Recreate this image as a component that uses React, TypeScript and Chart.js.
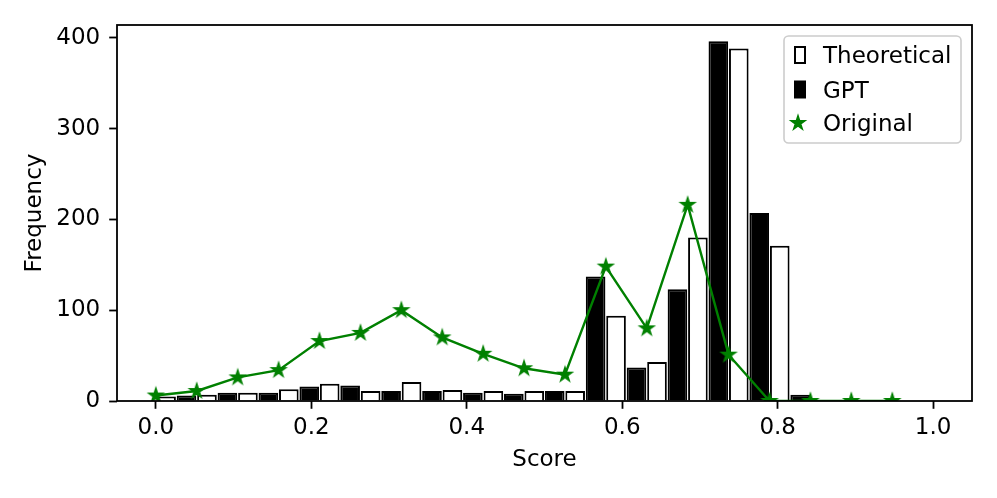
import React, { useEffect, useRef } from 'react';
import { Chart, registerables } from 'chart.js';

Chart.register(...registerables);

// Left edges of the score bins (19 bins over 0..1)
const binStarts = [0.0, 0.0526, 0.1053, 0.1579, 0.2105, 0.2632, 0.3158, 0.3684, 0.4211, 0.4737,
  0.5263, 0.5789, 0.6316, 0.6842, 0.7368, 0.7895, 0.8421, 0.8947, 0.9474];
const binWidth = 0.0526;

const theoretical = [5, 7, 9, 13, 19, 11, 21, 12, 11, 11, 11, 94, 43, 180, 388, 171, 0, 0, 0];
const gpt = [6, 9, 9, 16, 17, 11, 11, 9, 8, 11, 137, 37, 123, 396, 207, 7, 0, 0, 0];
const original = [6, 11, 26, 34, 66, 75, 100, 70, 52, 36, 29, 148, 80, 216, 51, 0, 0, 0, 0];

const xTicks = [0.0, 0.2, 0.4, 0.6, 0.8, 1.0];
const yTicks = [0, 100, 200, 300, 400];
const seriesLabels = ['Theoretical', 'GPT', 'Original'];

const FONT = 'DejaVu Sans';
const FS = 23;
const GREEN = '#008000';

function makeStar(r: number, color: string) {
  const size = 22;
  const c = document.createElement('canvas');
  c.width = size;
  c.height = size;
  const ctx = c.getContext('2d')!;
  ctx.beginPath();
  for (let k = 0; k < 10; k++) {
    const ang = -Math.PI / 2 + (k * Math.PI) / 5;
    const rad = k % 2 === 0 ? r : r * 0.382;
    ctx.lineTo(size / 2 + rad * Math.cos(ang), size / 2 + rad * Math.sin(ang));
  }
  ctx.closePath();
  ctx.fillStyle = color;
  ctx.fill();
  ctx.strokeStyle = color;
  ctx.lineWidth = 1.4;
  ctx.lineJoin = 'miter';
  ctx.stroke();
  return c;
}

const framePlugin = {
  id: 'frameAndLegend',
  afterDatasetsDraw(chart: any) {
    const { ctx, chartArea: a } = chart;
    ctx.save();
    ctx.strokeStyle = '#000';
    ctx.lineWidth = 1.8;
    ctx.strokeRect(a.left, a.top, a.right - a.left, a.bottom - a.top);
    ctx.restore();
  },
  afterDraw(chart: any) {
    const { ctx, chartArea: a } = chart;
    const w = 177;
    const h = 107;
    const bx = a.right - 11 - w;
    const by = a.top + 11;
    const r = 4.5;
    ctx.save();
    ctx.beginPath();
    ctx.moveTo(bx + r, by);
    ctx.lineTo(bx + w - r, by);
    ctx.arcTo(bx + w, by, bx + w, by + r, r);
    ctx.lineTo(bx + w, by + h - r);
    ctx.arcTo(bx + w, by + h, bx + w - r, by + h, r);
    ctx.lineTo(bx + r, by + h);
    ctx.arcTo(bx, by + h, bx, by + h - r, r);
    ctx.lineTo(bx, by + r);
    ctx.arcTo(bx, by, bx + r, by, r);
    ctx.closePath();
    ctx.fillStyle = 'rgba(255,255,255,0.8)';
    ctx.fill();
    ctx.strokeStyle = '#cccccc';
    ctx.lineWidth = 1.6;
    ctx.stroke();

    const rows = [by + 19, by + 53.5, by + 87];
    // Theoretical handle
    ctx.fillStyle = '#fff';
    ctx.fillRect(bx + 10, rows[0] - 9, 12, 18);
    ctx.strokeStyle = '#000';
    ctx.lineWidth = 2;
    ctx.strokeRect(bx + 11, rows[0] - 8, 10, 16);
    // GPT handle
    ctx.fillStyle = '#000';
    ctx.fillRect(bx + 10, rows[1] - 9, 12, 18);
    // Original handle
    const star = makeStar(7.5, GREEN);
    ctx.drawImage(star, bx + 14 - 11, rows[2] - 11);

    ctx.fillStyle = '#000';
    ctx.font = `${FS}px '${FONT}'`;
    ctx.textAlign = 'left';
    ctx.textBaseline = 'alphabetic';
    seriesLabels.forEach((t, i) => {
      ctx.fillText(t, bx + 39, rows[i] + 8);
    });
    ctx.restore();
  },
};

export default function App() {
  const ref = useRef<HTMLCanvasElement>(null);

  useEffect(() => {
    const starImg = makeStar(7.5, GREEN);
    const chart = new Chart(ref.current!, {
      type: 'bar',
      data: {
        datasets: [
          {
            type: 'bar',
            label: seriesLabels[0],
            data: binStarts.map((b, i) => ({ x: b + binWidth / 2, y: theoretical[i] })),
            backgroundColor: '#ffffff',
            borderColor: '#000000',
            borderWidth: 2,
            borderSkipped: 'start',
            categoryPercentage: 1.0,
            barPercentage: 0.96,
            order: 1,
          } as any,
          {
            type: 'bar',
            label: seriesLabels[1],
            data: binStarts.map((b, i) => ({ x: b + binWidth / 2, y: gpt[i] })),
            backgroundColor: '#000000',
            borderColor: '#000000',
            borderWidth: 2,
            categoryPercentage: 1.0,
            barPercentage: 0.96,
            order: 2,
          } as any,
          {
            type: 'line',
            label: seriesLabels[2],
            data: binStarts.map((b, i) => ({ x: b, y: original[i] })),
            borderColor: GREEN,
            backgroundColor: GREEN,
            borderWidth: 2.4,
            tension: 0,
            pointStyle: starImg,
            pointRadius: 8,
            order: 0,
          } as any,
        ],
      },
      options: {
        responsive: false,
        animation: false,
        devicePixelRatio: 1,
        layout: { padding: { top: 25, right: 25, left: 0, bottom: 0 } },
        plugins: {
          legend: { display: false },
          tooltip: { enabled: false },
        },
        scales: {
          x: {
            type: 'linear',
            min: -0.05,
            max: 1.05,
            offset: false,
            grid: {
              display: true,
              offset: false,
              drawOnChartArea: false,
              drawTicks: true,
              tickLength: 7.8,
              tickWidth: 1.8,
              tickColor: '#000',
            },
            border: { display: false },
            afterBuildTicks: (s: any) => {
              s.ticks = xTicks.map((v) => ({ value: v }));
            },
            ticks: {
              color: '#000',
              font: { family: FONT, size: FS },
              padding: 5,
              maxRotation: 0,
              autoSkip: false,
              callback: (v: any) => Number(v).toFixed(1),
            },
            title: {
              display: true,
              text: 'Score',
              color: '#000',
              font: { family: FONT, size: FS },
              padding: { top: 0, bottom: 24 },
            },
            afterFit: (s: any) => {
              s.height = 97;
            },
          },
          y: {
            type: 'linear',
            min: 0,
            max: 414,
            grid: {
              display: true,
              drawOnChartArea: false,
              drawTicks: true,
              tickLength: 7.8,
              tickWidth: 1.8,
              tickColor: '#000',
            },
            border: { display: false },
            afterBuildTicks: (s: any) => {
              s.ticks = yTicks.map((v) => ({ value: v }));
            },
            ticks: {
              color: '#000',
              font: { family: FONT, size: FS },
              padding: 9,
              autoSkip: false,
              callback: (v: any) => String(v),
            },
            title: {
              display: true,
              text: 'Frequency',
              color: '#000',
              font: { family: FONT, size: FS },
              padding: { top: 21, bottom: 0 },
            },
            afterFit: (s: any) => {
              s.width = 117;
            },
          },
        },
      } as any,
      plugins: [framePlugin],
    });
    return () => chart.destroy();
  }, []);

  return (
    <div style={{ position: 'fixed', left: 0, top: 0, width: 997, height: 498, background: '#fff' }}>
      <canvas ref={ref} width={997} height={498} style={{ display: 'block', width: 997, height: 498 }} />
    </div>
  );
}
